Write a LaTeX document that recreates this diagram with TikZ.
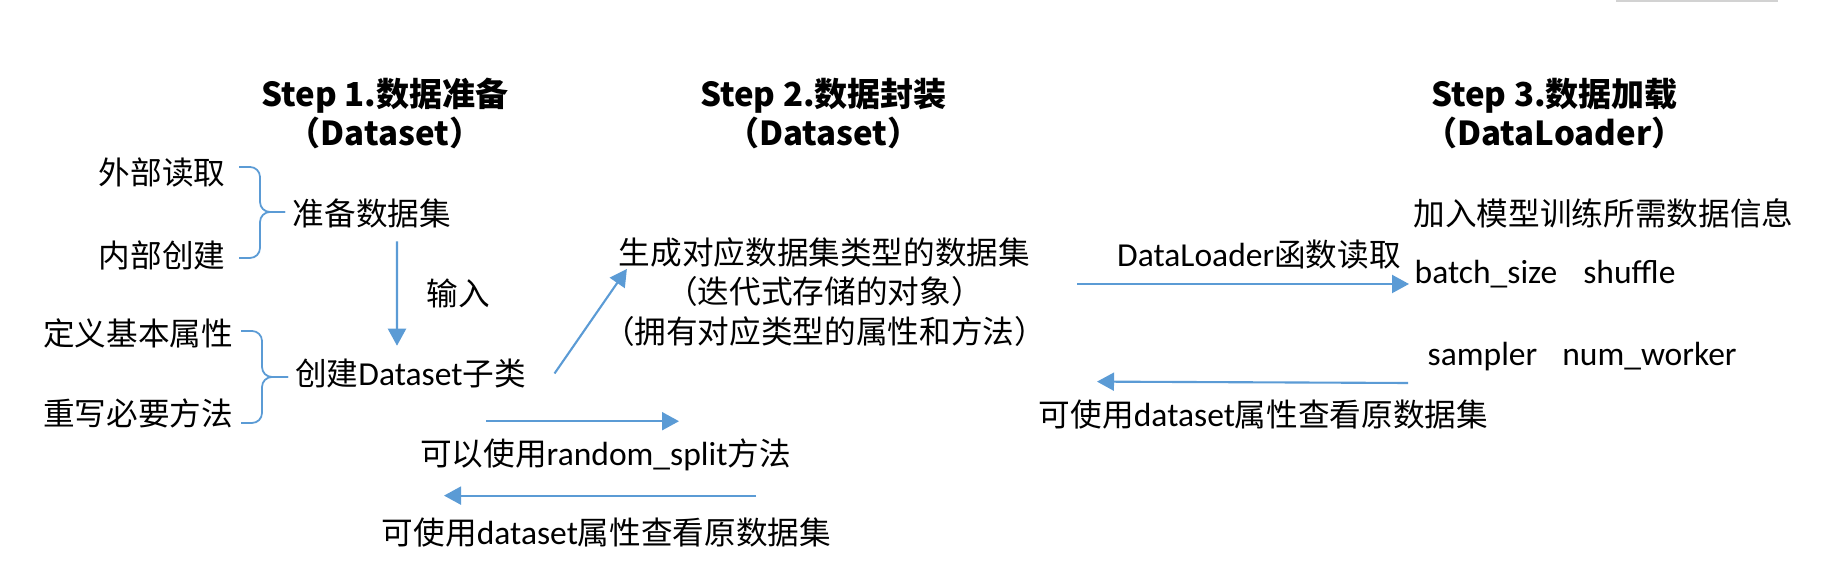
\documentclass[tikz,border=0pt]{standalone}
\usepackage{fontspec}
\setmainfont{Noto Sans CJK SC}
\newfontfamily\enf[Scale=1.06]{Carlito}
\usetikzlibrary{arrows.meta}
\definecolor{lineblue}{HTML}{5B9BD5}
\tikzset{
  txt/.style={inner sep=0pt, font=\fontsize{9}{11.2}\selectfont},
  ttl/.style={inner sep=0pt, align=center, font=\bfseries\fontsize{9.4}{11.1}\selectfont},
  arr/.style={lineblue, line width=0.6pt, -{Triangle[length=1.7mm,width=1.8mm]}},
  brc/.style={lineblue, line width=0.5pt, rounded corners=1mm}
}
\begin{document}
\begin{tikzpicture}
  \useasboundingbox (0,0) rectangle (18.22,-5.67);
  % Marco gris
  \draw[gray!35, line width=0.4pt] (16.17,0) -- (16.17,-0.012) -- (17.77,-0.012) -- (17.77,0);

  % Step 1
  \node[ttl] (t1) at (3.85,-1.135) {Step 1.数据准备\\（Dataset）};
  \node[txt] (ext) at (1.62,-1.73) {外部读取};
  \node[txt] (int) at (1.62,-2.55) {内部创建};
  \node[txt] (prep) at (3.72,-2.13) {准备数据集};
  \draw[brc] (2.39,-1.67) -| (2.60,-2.12) -- (2.85,-2.12);
  \draw[brc] (2.39,-2.58) -| (2.60,-2.12) -- (2.85,-2.12);

  \node[txt] (inp) at (4.58,-2.93) {输入};
  \node[txt] (attr) at (1.38,-3.33) {定义基本属性};
  \node[txt] (meth) at (1.38,-4.13) {重写必要方法};
  \node[txt] (sub) at (4.105,-3.735) {创建{\enf Dataset}子类};
  \draw[brc] (2.41,-3.31) -| (2.62,-3.77) -- (2.88,-3.77);
  \draw[brc] (2.41,-4.23) -| (2.62,-3.77) -- (2.88,-3.77);
  \draw[arr] ([xshift=2.5mm,yshift=-1.3mm]prep.south) -- ([xshift=-1.35mm,yshift=1.25mm]sub.north);

  % Step 2
  \node[ttl] (t2) at (8.235,-1.135) {Step 2.数据封装\\（Dataset）};
  \node[txt, align=center] (gen) at (8.245,-2.92) {生成对应数据集类型的数据集\\（迭代式存储的对象）\\（拥有对应类型的属性和方法）};
  \draw[arr] ([xshift=2.8mm]sub.east) -- ([xshift=2.45mm,yshift=-3.2mm]gen.north west);

  \node[txt] (split) at (6.055,-4.55) {可以使用{\enf random\_split}方法};
  \draw[arr] ([xshift=-11.95mm,yshift=1.7mm]split.north) -- ([xshift=7.35mm,yshift=1.7mm]split.north);
  \node[txt] (orig1) at (6.065,-5.33) {可使用{\enf dataset}属性查看原数据集};
  \draw[arr] ([xshift=14.95mm,yshift=2.2mm]orig1.north) -- ([xshift=-16.25mm,yshift=2.2mm]orig1.north);

  % Step 3
  \node[ttl] (t3) at (15.545,-1.135) {Step 3.数据加载\\（DataLoader）};
  \node[txt] (info) at (16.035,-2.13) {加入模型训练所需数据信息};
  \node[txt, anchor=base west] (batch) at (14.14,-2.84) {\enf batch\_size\hspace{2.6mm}shuffle};
  \node[txt, anchor=base west] (samp) at (14.27,-3.66) {\enf sampler\hspace{2.5mm}num\_worker};
  \node[txt] (load) at (12.59,-2.55) {{\enf DataLoader}函数读取};
  \draw[arr] ([xshift=-33.7mm]batch.base west) -- ([xshift=-0.5mm]batch.base west);
  \node[txt] (orig2) at (12.635,-4.15) {可使用{\enf dataset}属性查看原数据集};
  \draw[arr] ([xshift=-1.9mm,yshift=-1.7mm]samp.base west) -- ([xshift=-16.65mm,yshift=1.8mm]orig2.north);
\end{tikzpicture}
\end{document}
